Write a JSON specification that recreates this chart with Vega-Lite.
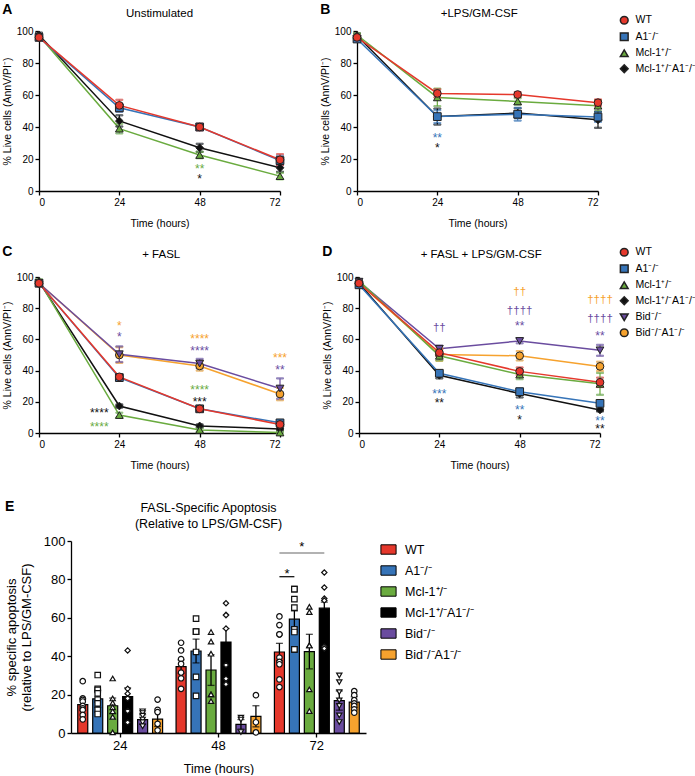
{
"$schema":"https://vega.github.io/schema/vega-lite/v6.json",
"padding":{"left":2,"top":3,"right":0,"bottom":0},
"config":{"font":"Liberation Sans","view":{"stroke":null},
"axis":{"grid":false,"domainColor":"#000","tickColor":"#000","labelColor":"#000","titleColor":"#000","domainWidth":1.3,"tickWidth":1.3,"tickSize":4,"labelFontSize":10,"titleFontSize":10.5,"titleFontWeight":"normal","labelPadding":2,"titlePadding":4},
"legend":{"labelColor":"#000"},"title":{"color":"#000"}},
"datasets":{
"lines":[
{"p":"A","g":"McA1","t":0,"v":97.5,"e":1.5},{"p":"A","g":"McA1","t":24,"v":43.8,"e":3.5},{"p":"A","g":"McA1","t":48,"v":27,"e":2.5},{"p":"A","g":"McA1","t":72,"v":14.5,"e":2.5},
{"p":"A","g":"Mcl","t":0,"v":97,"e":1},{"p":"A","g":"Mcl","t":24,"v":39,"e":3},{"p":"A","g":"Mcl","t":48,"v":22.5,"e":2},{"p":"A","g":"Mcl","t":72,"v":9.3,"e":2},
{"p":"A","g":"A1","t":0,"v":96,"e":1},{"p":"A","g":"A1","t":24,"v":52,"e":2.5},{"p":"A","g":"A1","t":48,"v":40,"e":2},{"p":"A","g":"A1","t":72,"v":19,"e":3},
{"p":"A","g":"WT","t":0,"v":96,"e":1},{"p":"A","g":"WT","t":24,"v":53.5,"e":3.5},{"p":"A","g":"WT","t":48,"v":40,"e":2},{"p":"A","g":"WT","t":72,"v":19.5,"e":3.5},
{"p":"B","g":"McA1","t":0,"v":97,"e":1.5},{"p":"B","g":"McA1","t":24,"v":46.5,"e":5},{"p":"B","g":"McA1","t":48,"v":48.7,"e":3},{"p":"B","g":"McA1","t":72,"v":44.5,"e":5},
{"p":"B","g":"Mcl","t":0,"v":97.5,"e":1},{"p":"B","g":"Mcl","t":24,"v":58.5,"e":5.5},{"p":"B","g":"Mcl","t":48,"v":56,"e":2},{"p":"B","g":"Mcl","t":72,"v":53.3,"e":3.5},
{"p":"B","g":"A1","t":0,"v":95,"e":1},{"p":"B","g":"A1","t":24,"v":46.5,"e":4},{"p":"B","g":"A1","t":48,"v":48,"e":4},{"p":"B","g":"A1","t":72,"v":46.2,"e":3},
{"p":"B","g":"WT","t":0,"v":96,"e":1},{"p":"B","g":"WT","t":24,"v":61,"e":2.5},{"p":"B","g":"WT","t":48,"v":60.3,"e":1.5},{"p":"B","g":"WT","t":72,"v":55.2,"e":2},
{"p":"C","g":"BidA1","t":0,"v":96,"e":1},{"p":"C","g":"BidA1","t":24,"v":50,"e":5},{"p":"C","g":"BidA1","t":48,"v":43,"e":3},{"p":"C","g":"BidA1","t":72,"v":25,"e":4},
{"p":"C","g":"Bid","t":0,"v":96,"e":1},{"p":"C","g":"Bid","t":24,"v":50.5,"e":5},{"p":"C","g":"Bid","t":48,"v":44.5,"e":3},{"p":"C","g":"Bid","t":72,"v":28.5,"e":6.5},
{"p":"C","g":"McA1","t":0,"v":97,"e":1},{"p":"C","g":"McA1","t":24,"v":17.3,"e":1},{"p":"C","g":"McA1","t":48,"v":4.5,"e":1},{"p":"C","g":"McA1","t":72,"v":2.6,"e":1},
{"p":"C","g":"Mcl","t":0,"v":97.5,"e":1},{"p":"C","g":"Mcl","t":24,"v":11.5,"e":1.5},{"p":"C","g":"Mcl","t":48,"v":2,"e":1},{"p":"C","g":"Mcl","t":72,"v":0.3,"e":0.5},
{"p":"C","g":"A1","t":0,"v":96,"e":1},{"p":"C","g":"A1","t":24,"v":35.5,"e":1.5},{"p":"C","g":"A1","t":48,"v":15.5,"e":1.5},{"p":"C","g":"A1","t":72,"v":6.5,"e":1.5},
{"p":"C","g":"WT","t":0,"v":96,"e":1},{"p":"C","g":"WT","t":24,"v":36,"e":1.5},{"p":"C","g":"WT","t":48,"v":15.5,"e":1.5},{"p":"C","g":"WT","t":72,"v":5.5,"e":1},
{"p":"D","g":"BidA1","t":0,"v":96,"e":1},{"p":"D","g":"BidA1","t":24,"v":50.3,"e":4},{"p":"D","g":"BidA1","t":48,"v":49.5,"e":3},{"p":"D","g":"BidA1","t":72,"v":42.7,"e":3},
{"p":"D","g":"Bid","t":0,"v":97,"e":1},{"p":"D","g":"Bid","t":24,"v":54,"e":2},{"p":"D","g":"Bid","t":48,"v":59,"e":1.5},{"p":"D","g":"Bid","t":72,"v":53,"e":3.5},
{"p":"D","g":"McA1","t":0,"v":96,"e":1},{"p":"D","g":"McA1","t":24,"v":37,"e":2},{"p":"D","g":"McA1","t":48,"v":25.3,"e":2.5},{"p":"D","g":"McA1","t":72,"v":14.8,"e":1},
{"p":"D","g":"Mcl","t":0,"v":97.5,"e":1},{"p":"D","g":"Mcl","t":24,"v":49.5,"e":3},{"p":"D","g":"Mcl","t":48,"v":37.5,"e":3},{"p":"D","g":"Mcl","t":72,"v":31.5,"e":7},
{"p":"D","g":"A1","t":0,"v":95,"e":1},{"p":"D","g":"A1","t":24,"v":38.3,"e":1.5},{"p":"D","g":"A1","t":48,"v":26.5,"e":2},{"p":"D","g":"A1","t":72,"v":19,"e":1.5},
{"p":"D","g":"WT","t":0,"v":96,"e":1},{"p":"D","g":"WT","t":24,"v":51.5,"e":2},{"p":"D","g":"WT","t":48,"v":39.5,"e":2.5},{"p":"D","g":"WT","t":72,"v":32.5,"e":3}
],
"stars":[
{"p":"A","t":48,"v":15.5,"s":"**","g":"Mcl"},{"p":"A","t":48,"v":9.5,"s":"*","g":"McA1"},
{"p":"B","t":24,"v":34.8,"s":"**","g":"A1"},{"p":"B","t":24,"v":28.5,"s":"*","g":"McA1"},
{"p":"C","t":24,"v":70.8,"s":"*","g":"BidA1"},{"p":"C","t":24,"v":63.2,"s":"*","g":"Bid"},{"p":"C","t":18,"v":14.9,"s":"****","g":"McA1"},{"p":"C","t":18,"v":5.8,"s":"****","g":"Mcl"},
{"p":"C","t":48,"v":62.5,"s":"****","g":"BidA1"},{"p":"C","t":48,"v":54.5,"s":"****","g":"Bid"},{"p":"C","t":48,"v":29.2,"s":"****","g":"Mcl"},{"p":"C","t":48,"v":22,"s":"***","g":"McA1"},
{"p":"C","t":72,"v":50.2,"s":"***","g":"BidA1"},{"p":"C","t":72,"v":42,"s":"**","g":"Bid"},
{"p":"D","t":24,"v":67,"s":"††","g":"Bid"},{"p":"D","t":24,"v":26.8,"s":"***","g":"A1"},{"p":"D","t":24,"v":20.9,"s":"**","g":"McA1"},
{"p":"D","t":48,"v":90.5,"s":"††","g":"BidA1"},{"p":"D","t":48,"v":78.5,"s":"††††","g":"Bid"},{"p":"D","t":48,"v":70.5,"s":"**","g":"Bid"},{"p":"D","t":48,"v":16.5,"s":"**","g":"A1"},{"p":"D","t":48,"v":10.5,"s":"*","g":"McA1"},
{"p":"D","t":72,"v":85,"s":"††††","g":"BidA1"},{"p":"D","t":72,"v":73,"s":"††††","g":"Bid"},{"p":"D","t":72,"v":64.3,"s":"**","g":"Bid"},{"p":"D","t":72,"v":9.5,"s":"**","g":"A1"},{"p":"D","t":72,"v":4.6,"s":"**","g":"McA1"}
],
"labels":[
{"p":"A","t":36,"v":110.6,"s":"Unstimulated"},{"p":"B","t":36.5,"v":110.6,"s":"+LPS/GM-CSF"},
{"p":"C","t":36.5,"v":114,"s":"+ FASL"},{"p":"D","t":36.5,"v":114,"s":"+ FASL + LPS/GM-CSF"}
],
"elab":[{"t":48,"v":117.2,"s":"FASL-Specific Apoptosis\n(Relative to LPS/GM-CSF)"}],
"em":[
{"t":24,"g":"WT","v":14.8,"e":3},{"t":24,"g":"A1","v":17.8,"e":4.5},{"t":24,"g":"Mcl","v":14.2,"e":4},{"t":24,"g":"McA1","v":19,"e":4.5},{"t":24,"g":"Bid","v":7,"e":2.5},{"t":24,"g":"BidA1","v":7.2,"e":3.8},
{"t":48,"g":"WT","v":34.6,"e":3.5},{"t":48,"g":"A1","v":42.7,"e":6.2},{"t":48,"g":"Mcl","v":32.8,"e":8},{"t":48,"g":"McA1","v":47.4,"e":7},{"t":48,"g":"Bid","v":4.5,"e":2.5},{"t":48,"g":"BidA1","v":8.7,"e":5.5},
{"t":72,"g":"WT","v":42.2,"e":4.5},{"t":72,"g":"A1","v":59.3,"e":4.3},{"t":72,"g":"Mcl","v":42.4,"e":9},{"t":72,"g":"McA1","v":65,"e":3.2},{"t":72,"g":"Bid","v":16.9,"e":5},{"t":72,"g":"BidA1","v":16.1,"e":2.8}
],
"ep":[
{"t":24,"g":"WT","v":27},{"t":24,"g":"WT","v":18},{"t":24,"g":"WT","v":17.3},{"t":24,"g":"WT","v":16.4},{"t":24,"g":"WT","v":14.1},{"t":24,"g":"WT","v":12.9},{"t":24,"g":"WT","v":12},{"t":24,"g":"WT","v":9.4},{"t":24,"g":"WT","v":7.1},
{"t":24,"g":"A1","v":30.2},{"t":24,"g":"A1","v":23},{"t":24,"g":"A1","v":22.4},{"t":24,"g":"A1","v":20.6},{"t":24,"g":"A1","v":17.4},{"t":24,"g":"A1","v":15.4},{"t":24,"g":"A1","v":12.1},{"t":24,"g":"A1","v":9.9},
{"t":24,"g":"Mcl","v":28.4},{"t":24,"g":"Mcl","v":18},{"t":24,"g":"Mcl","v":15.7},{"t":24,"g":"Mcl","v":13.4},{"t":24,"g":"Mcl","v":11.3},{"t":24,"g":"Mcl","v":8.4},{"t":24,"g":"Mcl","v":0.3},
{"t":24,"g":"McA1","v":43},{"t":24,"g":"McA1","v":23},{"t":24,"g":"McA1","v":20.5},{"t":24,"g":"McA1","v":18},{"t":24,"g":"McA1","v":11.5},{"t":24,"g":"McA1","v":5.5},
{"t":24,"g":"Bid","v":11.3},{"t":24,"g":"Bid","v":10.4},{"t":24,"g":"Bid","v":9},{"t":24,"g":"Bid","v":7},{"t":24,"g":"Bid","v":5.6},{"t":24,"g":"Bid","v":3.5},
{"t":24,"g":"BidA1","v":17.4},{"t":24,"g":"BidA1","v":12.1},{"t":24,"g":"BidA1","v":10.9},{"t":24,"g":"BidA1","v":4.8},{"t":24,"g":"BidA1","v":1.4},
{"t":48,"g":"WT","v":47},{"t":48,"g":"WT","v":43},{"t":48,"g":"WT","v":38.5},{"t":48,"g":"WT","v":36},{"t":48,"g":"WT","v":31.5},{"t":48,"g":"WT","v":28.5},{"t":48,"g":"WT","v":23},
{"t":48,"g":"A1","v":59.6},{"t":48,"g":"A1","v":52.8},{"t":48,"g":"A1","v":52.8},{"t":48,"g":"A1","v":42.2},{"t":48,"g":"A1","v":29.2},{"t":48,"g":"A1","v":19.3},
{"t":48,"g":"Mcl","v":52.6},{"t":48,"g":"Mcl","v":47.6},{"t":48,"g":"Mcl","v":41.3},{"t":48,"g":"Mcl","v":20.1},{"t":48,"g":"Mcl","v":20.1},{"t":48,"g":"Mcl","v":16.6},
{"t":48,"g":"McA1","v":67.6},{"t":48,"g":"McA1","v":61.4},{"t":48,"g":"McA1","v":61.4},{"t":48,"g":"McA1","v":54.4},{"t":48,"g":"McA1","v":35.4},{"t":48,"g":"McA1","v":28.3},{"t":48,"g":"McA1","v":25.4},
{"t":48,"g":"Bid","v":8},{"t":48,"g":"Bid","v":7},{"t":48,"g":"Bid","v":0.5},
{"t":48,"g":"BidA1","v":19.7},{"t":48,"g":"BidA1","v":5.6},{"t":48,"g":"BidA1","v":0.3},
{"t":72,"g":"WT","v":60.7},{"t":72,"g":"WT","v":56.2},{"t":72,"g":"WT","v":51.4},{"t":72,"g":"WT","v":51.4},{"t":72,"g":"WT","v":39.3},{"t":72,"g":"WT","v":37},{"t":72,"g":"WT","v":35.8},{"t":72,"g":"WT","v":27.9},{"t":72,"g":"WT","v":23.9},
{"t":72,"g":"A1","v":74.9},{"t":72,"g":"A1","v":74.9},{"t":72,"g":"A1","v":69.7},{"t":72,"g":"A1","v":65.3},{"t":72,"g":"A1","v":54},{"t":72,"g":"A1","v":52.6},{"t":72,"g":"A1","v":43.6},{"t":72,"g":"A1","v":43.6},
{"t":72,"g":"Mcl","v":65.7},{"t":72,"g":"Mcl","v":63},{"t":72,"g":"Mcl","v":45.6},{"t":72,"g":"Mcl","v":45.6},{"t":72,"g":"Mcl","v":22.7},{"t":72,"g":"Mcl","v":11.4},
{"t":72,"g":"McA1","v":83.6},{"t":72,"g":"McA1","v":75.8},{"t":72,"g":"McA1","v":70},{"t":72,"g":"McA1","v":69},{"t":72,"g":"McA1","v":45},{"t":72,"g":"McA1","v":44},
{"t":72,"g":"Bid","v":30},{"t":72,"g":"Bid","v":26.5},{"t":72,"g":"Bid","v":21.3},{"t":72,"g":"Bid","v":17},{"t":72,"g":"Bid","v":14.1},{"t":72,"g":"Bid","v":9.2},{"t":72,"g":"Bid","v":5.7},
{"t":72,"g":"BidA1","v":21.8},{"t":72,"g":"BidA1","v":19.7},{"t":72,"g":"BidA1","v":17.1},{"t":72,"g":"BidA1","v":15.4},{"t":72,"g":"BidA1","v":14.1},{"t":72,"g":"BidA1","v":12.3},{"t":72,"g":"BidA1","v":10.6}
],
"es":[
{"k":"a","t":72,"g":"WT","v":81.4},{"k":"a","t":72,"g":"A1","v":81.4},
{"k":"b","t":72,"g":"WT","v":93.7},{"k":"b","t":72,"g":"McA1","v":93.7}
],
"ess":[{"t":72,"g":"WT","v":84.5,"s":"*"},{"t":72,"g":"A1","v":98.4,"s":"*"}]
},
"resolve":{"scale":{"color":"independent","shape":"independent","stroke":"independent","fill":"independent"}},
"spacing":28,
"vconcat":[
{"resolve":{"scale":{"color":"independent","shape":"independent","stroke":"independent","fill":"independent"}},"spacing":16,"vconcat":[
{"spacing":34,"hconcat":[
{"width":241,"height":160,
"title":{"text":"A","anchor":"start","frame":"bounds","fontSize":14,"fontWeight":"bold","offset":-9},
"encoding":{"x":{"field":"t","type":"quantitative","scale":{"domain":[0,72],"nice":false},"axis":{"values":[0,24,48,72],"title":"Time (hours)","titlePadding":11}},
"y":{"field":"v","type":"quantitative","scale":{"domain":[0,100],"nice":false},"axis":{"values":[0,20,40,60,80,100],"title":"% Live cells (AnnV/PI⁻)"}}},
"layer":[
{"data":{"name":"lines"},"transform":[{"filter":"datum.p==='A'"}],"mark":{"type":"line","strokeWidth":1.5},"encoding":{"stroke":{"field":"g","type":"nominal","scale":{"domain":["McA1","Mcl","A1","WT"],"range":["#111111","#6aab3f","#3674b8","#e5382c"]},"legend":null}}},
{"data":{"name":"lines"},"transform":[{"filter":"datum.p==='A'"}],"mark":{"type":"errorbar","ticks":{"size":7},"thickness":1.2},"encoding":{"yError":{"field":"e"},"stroke":{"field":"g","type":"nominal","scale":{"domain":["McA1","Mcl","A1","WT"],"range":["#111111","#6aab3f","#3674b8","#e5382c"]},"legend":null}}},
{"data":{"name":"lines"},"transform":[{"filter":"datum.p==='A'"}],"mark":{"type":"point","filled":true,"opacity":1,"stroke":"#222","strokeWidth":1,"size":60},"encoding":{
"color":{"field":"g","type":"nominal","scale":{"domain":["WT","A1","Mcl","McA1"],"range":["#e5382c","#3674b8","#6aab3f","#111111"]},"legend":{"title":null,"orient":"none","legendX":580,"legendY":-16,"labelFontSize":10.5,"symbolSize":60,"rowPadding":1.5,"labelOffset":6,"padding":0,"labelExpr":"datum.value==='A1'?'A1⁻/⁻':datum.value==='Mcl'?'Mcl-1⁺/⁻':datum.value==='McA1'?'Mcl-1⁺/⁻A1⁻/⁻':datum.value==='Bid'?'Bid⁻/⁻':datum.value==='BidA1'?'Bid⁻/⁻A1⁻/⁻':datum.value"}},
"shape":{"field":"g","type":"nominal","scale":{"domain":["WT","A1","Mcl","McA1"],"range":["circle","square","triangle-up","diamond"]},"legend":{"title":null,"orient":"none","legendX":580,"legendY":-16,"labelFontSize":10.5,"symbolSize":60,"rowPadding":1.5,"labelOffset":6,"padding":0,"labelExpr":"datum.value==='A1'?'A1⁻/⁻':datum.value==='Mcl'?'Mcl-1⁺/⁻':datum.value==='McA1'?'Mcl-1⁺/⁻A1⁻/⁻':datum.value==='Bid'?'Bid⁻/⁻':datum.value==='BidA1'?'Bid⁻/⁻A1⁻/⁻':datum.value"}}}},
{"data":{"name":"stars"},"transform":[{"filter":"datum.p==='A'"}],"mark":{"type":"text","fontSize":12,"baseline":"alphabetic","dy":7},"encoding":{"text":{"field":"s"},"fill":{"field":"g","type":"nominal","scale":{"domain":["McA1","Mcl","A1","WT"],"range":["#111111","#6aab3f","#3674b8","#e5382c"]},"legend":null}}},
{"data":{"name":"labels"},"transform":[{"filter":"datum.p==='A'"}],"mark":{"type":"text","fontSize":11.5,"baseline":"middle","color":"#000"},"encoding":{"text":{"field":"s"}}}
]},
{"width":241,"height":160,
"title":{"text":"B","anchor":"start","frame":"bounds","fontSize":14,"fontWeight":"bold","offset":-9},
"encoding":{"x":{"field":"t","type":"quantitative","scale":{"domain":[0,72],"nice":false},"axis":{"values":[0,24,48,72],"title":"Time (hours)","titlePadding":11}},
"y":{"field":"v","type":"quantitative","scale":{"domain":[0,100],"nice":false},"axis":{"values":[0,20,40,60,80,100],"title":"% Live cells (AnnV/PI⁻)"}}},
"layer":[
{"data":{"name":"lines"},"transform":[{"filter":"datum.p==='B'"}],"mark":{"type":"line","strokeWidth":1.5},"encoding":{"stroke":{"field":"g","type":"nominal","scale":{"domain":["McA1","Mcl","A1","WT"],"range":["#111111","#6aab3f","#3674b8","#e5382c"]},"legend":null}}},
{"data":{"name":"lines"},"transform":[{"filter":"datum.p==='B'"}],"mark":{"type":"errorbar","ticks":{"size":7},"thickness":1.2},"encoding":{"yError":{"field":"e"},"stroke":{"field":"g","type":"nominal","scale":{"domain":["McA1","Mcl","A1","WT"],"range":["#111111","#6aab3f","#3674b8","#e5382c"]},"legend":null}}},
{"data":{"name":"lines"},"transform":[{"filter":"datum.p==='B'"}],"mark":{"type":"point","filled":true,"opacity":1,"stroke":"#222","strokeWidth":1,"size":60},"encoding":{
"color":{"field":"g","type":"nominal","scale":{"domain":["WT","A1","Mcl","McA1"],"range":["#e5382c","#3674b8","#6aab3f","#111111"]},"legend":{"title":null,"orient":"none","legendX":580,"legendY":-16,"labelFontSize":10.5,"symbolSize":60,"rowPadding":1.5,"labelOffset":6,"padding":0,"labelExpr":"datum.value==='A1'?'A1⁻/⁻':datum.value==='Mcl'?'Mcl-1⁺/⁻':datum.value==='McA1'?'Mcl-1⁺/⁻A1⁻/⁻':datum.value==='Bid'?'Bid⁻/⁻':datum.value==='BidA1'?'Bid⁻/⁻A1⁻/⁻':datum.value"}},
"shape":{"field":"g","type":"nominal","scale":{"domain":["WT","A1","Mcl","McA1"],"range":["circle","square","triangle-up","diamond"]},"legend":{"title":null,"orient":"none","legendX":580,"legendY":-16,"labelFontSize":10.5,"symbolSize":60,"rowPadding":1.5,"labelOffset":6,"padding":0,"labelExpr":"datum.value==='A1'?'A1⁻/⁻':datum.value==='Mcl'?'Mcl-1⁺/⁻':datum.value==='McA1'?'Mcl-1⁺/⁻A1⁻/⁻':datum.value==='Bid'?'Bid⁻/⁻':datum.value==='BidA1'?'Bid⁻/⁻A1⁻/⁻':datum.value"}}}},
{"data":{"name":"stars"},"transform":[{"filter":"datum.p==='B'"}],"mark":{"type":"text","fontSize":12,"baseline":"alphabetic","dy":7},"encoding":{"text":{"field":"s"},"fill":{"field":"g","type":"nominal","scale":{"domain":["McA1","Mcl","A1","WT"],"range":["#111111","#6aab3f","#3674b8","#e5382c"]},"legend":null}}},
{"data":{"name":"labels"},"transform":[{"filter":"datum.p==='B'"}],"mark":{"type":"text","fontSize":11.5,"baseline":"middle","color":"#000"},"encoding":{"text":{"field":"s"}}}
]}
]},
{"spacing":34,"hconcat":[
{"width":241,"height":156,
"title":{"text":"C","anchor":"start","frame":"bounds","fontSize":14,"fontWeight":"bold","offset":-10},
"encoding":{"x":{"field":"t","type":"quantitative","scale":{"domain":[0,72],"nice":false},"axis":{"values":[0,24,48,72],"title":"Time (hours)","titlePadding":11}},
"y":{"field":"v","type":"quantitative","scale":{"domain":[0,100],"nice":false},"axis":{"values":[0,20,40,60,80,100],"title":"% Live cells (AnnV/PI⁻)"}}},
"layer":[
{"data":{"name":"lines"},"transform":[{"filter":"datum.p==='C'"}],"mark":{"type":"line","strokeWidth":1.5},"encoding":{"stroke":{"field":"g","type":"nominal","scale":{"domain":["BidA1","Bid","McA1","Mcl","A1","WT"],"range":["#f6a22e","#6a4c9f","#111111","#6aab3f","#3674b8","#e5382c"]},"legend":null}}},
{"data":{"name":"lines"},"transform":[{"filter":"datum.p==='C'"}],"mark":{"type":"errorbar","ticks":{"size":7},"thickness":1.2},"encoding":{"yError":{"field":"e"},"stroke":{"field":"g","type":"nominal","scale":{"domain":["BidA1","Bid","McA1","Mcl","A1","WT"],"range":["#f6a22e","#6a4c9f","#111111","#6aab3f","#3674b8","#e5382c"]},"legend":null}}},
{"data":{"name":"lines"},"transform":[{"filter":"datum.p==='C'"}],"mark":{"type":"point","filled":true,"opacity":1,"stroke":"#222","strokeWidth":1,"size":60},"encoding":{
"color":{"field":"g","type":"nominal","scale":{"domain":["WT","A1","Mcl","McA1","Bid","BidA1"],"range":["#e5382c","#3674b8","#6aab3f","#111111","#6a4c9f","#f6a22e"]},"legend":{"title":null,"orient":"none","legendX":580,"legendY":-30,"labelFontSize":10.5,"symbolSize":60,"rowPadding":1.5,"labelOffset":6,"padding":0,"labelExpr":"datum.value==='A1'?'A1⁻/⁻':datum.value==='Mcl'?'Mcl-1⁺/⁻':datum.value==='McA1'?'Mcl-1⁺/⁻A1⁻/⁻':datum.value==='Bid'?'Bid⁻/⁻':datum.value==='BidA1'?'Bid⁻/⁻A1⁻/⁻':datum.value"}},
"shape":{"field":"g","type":"nominal","scale":{"domain":["WT","A1","Mcl","McA1","Bid","BidA1"],"range":["circle","square","triangle-up","diamond","triangle-down","circle"]},"legend":{"title":null,"orient":"none","legendX":580,"legendY":-30,"labelFontSize":10.5,"symbolSize":60,"rowPadding":1.5,"labelOffset":6,"padding":0,"labelExpr":"datum.value==='A1'?'A1⁻/⁻':datum.value==='Mcl'?'Mcl-1⁺/⁻':datum.value==='McA1'?'Mcl-1⁺/⁻A1⁻/⁻':datum.value==='Bid'?'Bid⁻/⁻':datum.value==='BidA1'?'Bid⁻/⁻A1⁻/⁻':datum.value"}}}},
{"data":{"name":"stars"},"transform":[{"filter":"datum.p==='C'"}],"mark":{"type":"text","fontSize":12,"baseline":"alphabetic","dy":7},"encoding":{"text":{"field":"s"},"fill":{"field":"g","type":"nominal","scale":{"domain":["BidA1","Bid","McA1","Mcl","A1","WT"],"range":["#f6a22e","#6a4c9f","#111111","#6aab3f","#3674b8","#e5382c"]},"legend":null}}},
{"data":{"name":"labels"},"transform":[{"filter":"datum.p==='C'"}],"mark":{"type":"text","fontSize":11.5,"baseline":"middle","color":"#000"},"encoding":{"text":{"field":"s"}}}
]},
{"width":241,"height":156,
"title":{"text":"D","anchor":"start","frame":"bounds","fontSize":14,"fontWeight":"bold","offset":-10},
"encoding":{"x":{"field":"t","type":"quantitative","scale":{"domain":[0,72],"nice":false},"axis":{"values":[0,24,48,72],"title":"Time (hours)","titlePadding":11}},
"y":{"field":"v","type":"quantitative","scale":{"domain":[0,100],"nice":false},"axis":{"values":[0,20,40,60,80,100],"title":"% Live cells (AnnV/PI⁻)"}}},
"layer":[
{"data":{"name":"lines"},"transform":[{"filter":"datum.p==='D'"}],"mark":{"type":"line","strokeWidth":1.5},"encoding":{"stroke":{"field":"g","type":"nominal","scale":{"domain":["BidA1","Bid","McA1","Mcl","A1","WT"],"range":["#f6a22e","#6a4c9f","#111111","#6aab3f","#3674b8","#e5382c"]},"legend":null}}},
{"data":{"name":"lines"},"transform":[{"filter":"datum.p==='D'"}],"mark":{"type":"errorbar","ticks":{"size":7},"thickness":1.2},"encoding":{"yError":{"field":"e"},"stroke":{"field":"g","type":"nominal","scale":{"domain":["BidA1","Bid","McA1","Mcl","A1","WT"],"range":["#f6a22e","#6a4c9f","#111111","#6aab3f","#3674b8","#e5382c"]},"legend":null}}},
{"data":{"name":"lines"},"transform":[{"filter":"datum.p==='D'"}],"mark":{"type":"point","filled":true,"opacity":1,"stroke":"#222","strokeWidth":1,"size":60},"encoding":{
"color":{"field":"g","type":"nominal","scale":{"domain":["WT","A1","Mcl","McA1","Bid","BidA1"],"range":["#e5382c","#3674b8","#6aab3f","#111111","#6a4c9f","#f6a22e"]},"legend":{"title":null,"orient":"none","legendX":580,"legendY":-30,"labelFontSize":10.5,"symbolSize":60,"rowPadding":1.5,"labelOffset":6,"padding":0,"labelExpr":"datum.value==='A1'?'A1⁻/⁻':datum.value==='Mcl'?'Mcl-1⁺/⁻':datum.value==='McA1'?'Mcl-1⁺/⁻A1⁻/⁻':datum.value==='Bid'?'Bid⁻/⁻':datum.value==='BidA1'?'Bid⁻/⁻A1⁻/⁻':datum.value"}},
"shape":{"field":"g","type":"nominal","scale":{"domain":["WT","A1","Mcl","McA1","Bid","BidA1"],"range":["circle","square","triangle-up","diamond","triangle-down","circle"]},"legend":{"title":null,"orient":"none","legendX":580,"legendY":-30,"labelFontSize":10.5,"symbolSize":60,"rowPadding":1.5,"labelOffset":6,"padding":0,"labelExpr":"datum.value==='A1'?'A1⁻/⁻':datum.value==='Mcl'?'Mcl-1⁺/⁻':datum.value==='McA1'?'Mcl-1⁺/⁻A1⁻/⁻':datum.value==='Bid'?'Bid⁻/⁻':datum.value==='BidA1'?'Bid⁻/⁻A1⁻/⁻':datum.value"}}}},
{"data":{"name":"stars"},"transform":[{"filter":"datum.p==='D' && indexof(datum.s,'†')<0"}],"mark":{"type":"text","fontSize":12,"baseline":"alphabetic","dy":7},"encoding":{"text":{"field":"s"},"fill":{"field":"g","type":"nominal","scale":{"domain":["BidA1","Bid","McA1","Mcl","A1","WT"],"range":["#f6a22e","#6a4c9f","#111111","#6aab3f","#3674b8","#e5382c"]},"legend":null}}},
{"data":{"name":"stars"},"transform":[{"filter":"datum.p==='D' && indexof(datum.s,'†')>=0"}],"mark":{"type":"text","fontSize":11.5,"baseline":"middle"},"encoding":{"text":{"field":"s"},"fill":{"field":"g","type":"nominal","scale":{"domain":["BidA1","Bid","McA1","Mcl","A1","WT"],"range":["#f6a22e","#6a4c9f","#111111","#6aab3f","#3674b8","#e5382c"]},"legend":null}}},
{"data":{"name":"labels"},"transform":[{"filter":"datum.p==='D'"}],"mark":{"type":"text","fontSize":11.5,"baseline":"middle","color":"#000"},"encoding":{"text":{"field":"s"}}}
]}
]}
]},
{"title":{"text":"E","anchor":"start","frame":"bounds","fontSize":14,"fontWeight":"bold","offset":-12},
"spacing":0,
"hconcat":[
{"width":1,"height":192,"data":{"name":"em"},"mark":{"type":"point","opacity":0},
"encoding":{"y":{"field":"v","type":"quantitative","scale":{"domain":[0,100],"nice":false},"axis":{"title":["% specific apoptosis","(relative to LPS/GM-CSF)"],"labels":false,"ticks":false,"domain":false,"titleFontSize":13,"titlePadding":6}}}},
{"width":295,"height":192,
"encoding":{"x":{"field":"t","type":"ordinal","scale":{"paddingInner":0,"paddingOuter":0},"axis":{"title":"Time (hours)","labelAngle":0,"labelFontSize":13,"titleFontSize":12.5,"titlePadding":10}},
"y":{"field":"v","type":"quantitative","scale":{"domain":[0,100],"nice":false},"axis":{"values":[0,20,40,60,80,100],"title":null,"labelFontSize":13}}},
"layer":[
{"data":{"name":"em"},"mark":{"type":"bar","stroke":"#000","strokeWidth":1.2},"encoding":{
"xOffset":{"field":"g","type":"nominal","scale":{"domain":["WT","A1","Mcl","McA1","Bid","BidA1"],"paddingInner":0.33,"paddingOuter":0.45}},
"color":{"field":"g","type":"nominal","scale":{"domain":["WT","A1","Mcl","McA1","Bid","BidA1"],"range":["#e5382c","#3674b8","#6aab3f","#000000","#6a4c9f","#f6a22e"]},"legend":{"title":null,"labelFontSize":12.5,"symbolType":"M-1,-0.62H1V0.62H-1Z","symbolSize":230,"symbolStrokeColor":"#000","symbolStrokeWidth":1,"rowPadding":5,"offset":14,"labelOffset":8,"padding":0,"labelExpr":"datum.value==='A1'?'A1⁻/⁻':datum.value==='Mcl'?'Mcl-1⁺/⁻':datum.value==='McA1'?'Mcl-1⁺/⁻A1⁻/⁻':datum.value==='Bid'?'Bid⁻/⁻':datum.value==='BidA1'?'Bid⁻/⁻A1⁻/⁻':datum.value"}}}},
{"data":{"name":"em"},"mark":{"type":"errorbar","ticks":{"size":7},"thickness":1.3,"color":"#000"},"encoding":{"yError":{"field":"e"},"xOffset":{"field":"g","type":"nominal","scale":{"domain":["WT","A1","Mcl","McA1","Bid","BidA1"],"paddingInner":0.33,"paddingOuter":0.45}}}},
{"data":{"name":"ep"},"transform":[{"filter":"datum.g==='WT' || datum.g==='BidA1'"}],"mark":{"type":"point","shape":"circle","filled":true,"fill":"#ffffff","stroke":"#111","strokeWidth":1.2,"opacity":1,"size":30},"encoding":{"xOffset":{"field":"g","type":"nominal","scale":{"domain":["WT","A1","Mcl","McA1","Bid","BidA1"],"paddingInner":0.33,"paddingOuter":0.45}}}},
{"data":{"name":"ep"},"transform":[{"filter":"datum.g==='A1'"}],"mark":{"type":"point","shape":"square","filled":true,"fill":"#ffffff","stroke":"#111","strokeWidth":1.2,"opacity":1,"size":30},"encoding":{"xOffset":{"field":"g","type":"nominal","scale":{"domain":["WT","A1","Mcl","McA1","Bid","BidA1"],"paddingInner":0.33,"paddingOuter":0.45}}}},
{"data":{"name":"ep"},"transform":[{"filter":"datum.g==='Mcl'"}],"mark":{"type":"point","shape":"triangle-up","filled":true,"fill":"#ffffff","stroke":"#111","strokeWidth":1.2,"opacity":1,"size":28},"encoding":{"xOffset":{"field":"g","type":"nominal","scale":{"domain":["WT","A1","Mcl","McA1","Bid","BidA1"],"paddingInner":0.33,"paddingOuter":0.45}}}},
{"data":{"name":"ep"},"transform":[{"filter":"datum.g==='McA1'"}],"mark":{"type":"point","shape":"diamond","filled":true,"fill":"#ffffff","stroke":"#111","strokeWidth":1.2,"opacity":1,"size":28},"encoding":{"xOffset":{"field":"g","type":"nominal","scale":{"domain":["WT","A1","Mcl","McA1","Bid","BidA1"],"paddingInner":0.33,"paddingOuter":0.45}}}},
{"data":{"name":"ep"},"transform":[{"filter":"datum.g==='Bid'"}],"mark":{"type":"point","shape":"triangle-down","filled":true,"fill":"#ffffff","stroke":"#111","strokeWidth":1.2,"opacity":1,"size":28},"encoding":{"xOffset":{"field":"g","type":"nominal","scale":{"domain":["WT","A1","Mcl","McA1","Bid","BidA1"],"paddingInner":0.33,"paddingOuter":0.45}}}},
{"data":{"name":"es"},"transform":[{"filter":"datum.k==='a'"}],"mark":{"type":"line","color":"#000","strokeWidth":1.2},"encoding":{"xOffset":{"field":"g","type":"nominal","scale":{"domain":["WT","A1","Mcl","McA1","Bid","BidA1"],"paddingInner":0.33,"paddingOuter":0.45}}}},
{"data":{"name":"es"},"transform":[{"filter":"datum.k==='b'"}],"mark":{"type":"line","color":"#999","strokeWidth":1.5},"encoding":{"xOffset":{"field":"g","type":"nominal","scale":{"domain":["WT","A1","Mcl","McA1","Bid","BidA1"],"paddingInner":0.33,"paddingOuter":0.45}}}},
{"data":{"name":"ess"},"mark":{"type":"text","fontSize":13,"baseline":"alphabetic","dy":7,"dx":7.5},"encoding":{"text":{"field":"s"},"xOffset":{"field":"g","type":"nominal","scale":{"domain":["WT","A1","Mcl","McA1","Bid","BidA1"],"paddingInner":0.33,"paddingOuter":0.45}}}},
{"data":{"name":"elab"},"mark":{"type":"text","fontSize":12.5,"lineBreak":"\n","lineHeight":16,"baseline":"middle","dx":-10,"color":"#000"},"encoding":{"text":{"field":"s"}}}
]}
]}
]
}
